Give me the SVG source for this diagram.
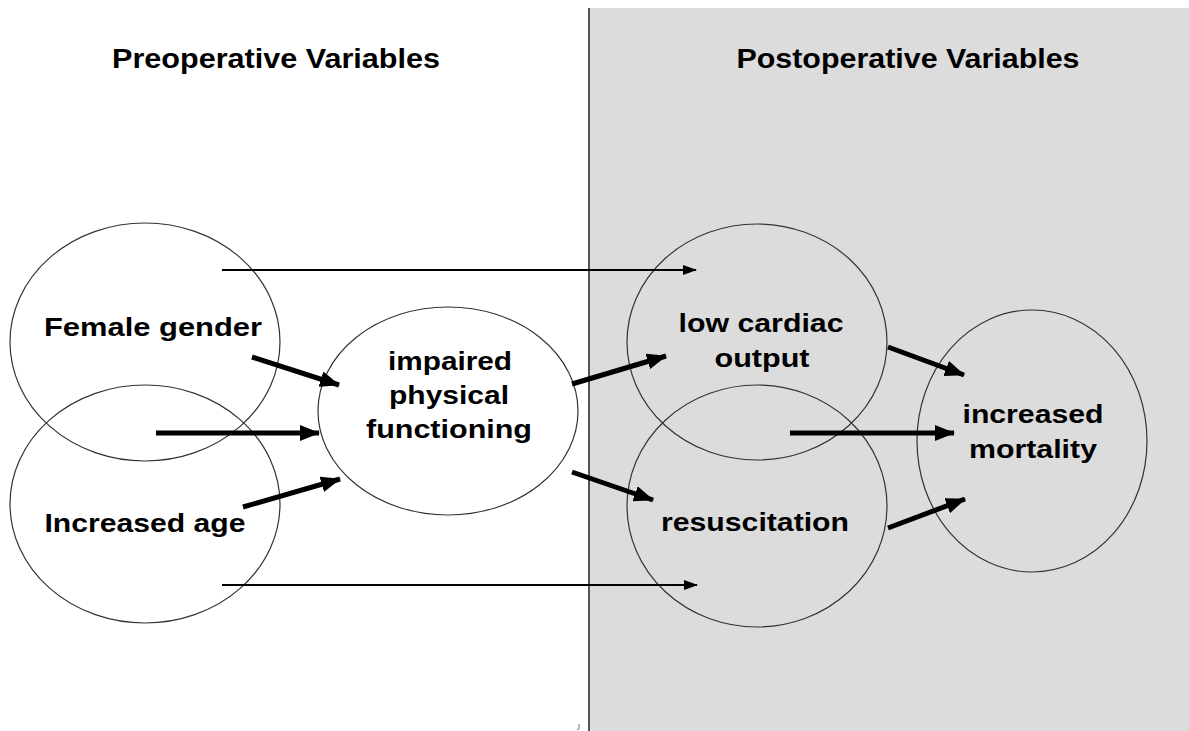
<svg xmlns="http://www.w3.org/2000/svg" width="1189" height="731" viewBox="0 0 1189 731">
<defs>
<marker id="thin" markerUnits="userSpaceOnUse" markerWidth="14" markerHeight="10" refX="13" refY="5" orient="auto"><path d="M0,0 L14,5 L0,10 z" fill="#000"/></marker>
<marker id="thick" markerUnits="userSpaceOnUse" markerWidth="20" markerHeight="16" refX="19" refY="8" orient="auto"><path d="M0,0 L20,8 L0,16 z" fill="#000"/></marker>
<style>
.node{fill:none;stroke:#333;stroke-width:1.2}
.lbl{font-family:"Liberation Sans",Arial,sans-serif;font-weight:bold;font-size:25px;fill:#000;text-anchor:middle}
.hdr{font-family:"Liberation Sans",Arial,sans-serif;font-weight:bold;font-size:27px;fill:#000;text-anchor:middle}
.thin{stroke:#000;stroke-width:2;fill:none;marker-end:url(#thin)}
.thick{stroke:#000;stroke-width:5;fill:none;marker-end:url(#thick)}
</style>
</defs>
<rect width="1189" height="731" fill="#fff"/>
<rect x="589" y="8" width="600" height="723" fill="#dcdcdc"/>
<line x1="589" y1="8" x2="589" y2="731" stroke="#555" stroke-width="2"/>
<path d="M579,724 L579,729 L577,730" stroke="#777" stroke-width="1" fill="none"/>
<text class="hdr" x="276" y="68" textLength="328" lengthAdjust="spacingAndGlyphs">Preoperative Variables</text>
<text class="hdr" x="908" y="68" textLength="343" lengthAdjust="spacingAndGlyphs">Postoperative Variables</text>
<g id="female"><ellipse class="node" cx="145" cy="342" rx="135" ry="119"/><text class="lbl" x="153" y="336" textLength="218" lengthAdjust="spacingAndGlyphs">Female gender</text></g>
<g id="age"><ellipse class="node" cx="145" cy="504" rx="135" ry="119"/><text class="lbl" x="145" y="532" textLength="201" lengthAdjust="spacingAndGlyphs">Increased age</text></g>
<g id="impaired"><ellipse class="node" cx="448" cy="411" rx="130" ry="104"/><text class="lbl" x="450" y="370" textLength="124" lengthAdjust="spacingAndGlyphs">impaired</text><text class="lbl" x="449" y="404" textLength="120" lengthAdjust="spacingAndGlyphs">physical</text><text class="lbl" x="449" y="438" textLength="166" lengthAdjust="spacingAndGlyphs">functioning</text></g>
<g id="lowco"><ellipse class="node" cx="757" cy="342" rx="130" ry="118"/><text class="lbl" x="761" y="332" textLength="165" lengthAdjust="spacingAndGlyphs">low cardiac</text><text class="lbl" x="762" y="367" textLength="95" lengthAdjust="spacingAndGlyphs">output</text></g>
<g id="resus"><ellipse class="node" cx="757" cy="506" rx="130" ry="121"/><text class="lbl" x="755" y="531" textLength="188" lengthAdjust="spacingAndGlyphs">resuscitation</text></g>
<g id="mortality"><ellipse class="node" cx="1032" cy="441" rx="115" ry="131"/><text class="lbl" x="1033" y="423" textLength="141" lengthAdjust="spacingAndGlyphs">increased</text><text class="lbl" x="1033" y="458" textLength="128" lengthAdjust="spacingAndGlyphs">mortality</text></g>
<g id="connectors">
<line class="thin" x1="222" y1="270" x2="696" y2="270"/>
<line class="thin" x1="222" y1="585" x2="697" y2="585"/>
<line class="thick" x1="252" y1="357" x2="339" y2="385"/>
<line class="thick" x1="156" y1="433" x2="319" y2="433"/>
<line class="thick" x1="243" y1="507" x2="340" y2="479"/>
<line class="thick" x1="572" y1="384" x2="666" y2="356"/>
<line class="thick" x1="572" y1="472" x2="653" y2="500"/>
<line class="thick" x1="888" y1="347" x2="964" y2="375"/>
<line class="thick" x1="790" y1="433" x2="954" y2="433"/>
<line class="thick" x1="888" y1="528" x2="965" y2="499"/>
</g>
</svg>
